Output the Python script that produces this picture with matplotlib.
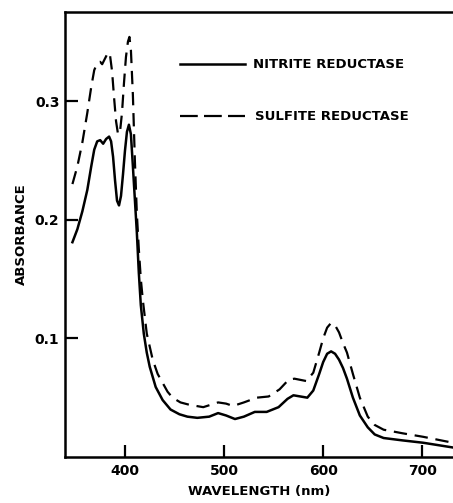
import numpy as np
import matplotlib
matplotlib.use("Agg")
import matplotlib.pyplot as plt

# nitrite reductase (solid)
nir_wl = [347, 352, 357, 362, 366, 369, 372, 375, 378, 381, 384, 386, 388, 390, 392, 394,
          396, 398, 400, 402, 404, 406, 408, 410, 412, 414, 416, 419, 422, 425, 431, 438,
          446, 455, 463, 473, 485, 494, 502, 511, 520, 531, 543, 555, 564, 570, 577, 584,
          590, 596, 600, 604, 608, 612, 616, 620, 624, 630, 637, 645, 652, 661, 680, 701, 731]
nir_abs = [0.181, 0.192, 0.207, 0.225, 0.245, 0.259, 0.266, 0.267, 0.264, 0.268, 0.270, 0.266,
           0.253, 0.233, 0.216, 0.212, 0.220, 0.238, 0.258, 0.274, 0.280, 0.272, 0.245, 0.217,
           0.189, 0.155, 0.128, 0.104, 0.088, 0.076, 0.059, 0.048, 0.040, 0.036, 0.034, 0.033,
           0.034, 0.037, 0.035, 0.032, 0.034, 0.038, 0.038, 0.042, 0.049, 0.052, 0.051, 0.050,
           0.056, 0.070, 0.080, 0.087, 0.089, 0.087, 0.082, 0.075, 0.066, 0.050, 0.035, 0.025,
           0.019, 0.016, 0.014, 0.012, 0.008]

# sulfite reductase (dashed)
sir_wl = [347, 352, 357, 362, 366, 369, 372, 375, 377, 380, 383, 385, 387, 389, 391, 393,
          395, 397, 399, 401, 403, 404.5, 406, 408, 410, 412, 414, 416, 418, 422, 428, 433,
          438, 443, 448, 456, 465, 479, 494, 502, 509, 520, 533, 545, 556, 565, 571, 577,
          583, 590, 596, 600, 604, 608, 612, 616, 620, 624, 630, 637, 645, 652, 661, 680,
          701, 731]
sir_abs = [0.230, 0.245, 0.265, 0.290, 0.312, 0.326, 0.332, 0.333, 0.331, 0.336, 0.341, 0.338,
           0.325, 0.303, 0.283, 0.272, 0.274, 0.290, 0.315, 0.337, 0.350, 0.354, 0.343, 0.305,
           0.250, 0.205, 0.175, 0.150, 0.1325, 0.104, 0.082, 0.070, 0.0625, 0.055, 0.050,
           0.046, 0.044, 0.042, 0.046, 0.045, 0.043, 0.046, 0.050, 0.051, 0.057, 0.065, 0.066,
           0.065, 0.064, 0.071, 0.088, 0.100, 0.109, 0.113, 0.111, 0.105, 0.096, 0.088, 0.070,
           0.050, 0.034, 0.027, 0.023, 0.020, 0.017, 0.012]

xticks = [400, 500, 600, 700]
yticks = [0.1, 0.2, 0.3]
ytick_labels = ["0.1", "0.2", "0.3"]

plt.rcParams['font.family'] = ['DejaVu Sans']
plt.rcParams['font.weight'] = 'bold'

fig = plt.figure(figsize=(4.53, 5.03), dpi=100)
ax = fig.add_axes([65 / 453, 46 / 503, 388 / 453, 445 / 503])

ax.plot(nir_wl, nir_abs, color='black', lw=1.8, solid_joinstyle='round')
ax.plot(sir_wl, sir_abs, color='black', lw=1.6, dashes=(6, 3.5))

ax.set_xlim(339.5, 731)
ax.set_ylim(0, 0.375)
ax.set_xticks(xticks)
ax.set_xticklabels([str(t) for t in xticks])
ax.set_yticks(yticks)
ax.set_yticklabels(ytick_labels)
ax.tick_params(direction='in', length=9, width=1.6, labelsize=10, pad=5)
ax.tick_params(axis='y', pad=4)
ax.spines['right'].set_visible(False)
for s in ['left', 'top', 'bottom']:
    ax.spines[s].set_linewidth(1.8)

ax.set_xlabel('WAVELENGTH (nm)', fontsize=9.5, fontweight='bold', labelpad=5)
ax.set_ylabel('ABSORBANCE', fontsize=9.5, fontweight='bold', labelpad=5)

# legend drawn by hand
ax.plot([455.5, 521], [0.331, 0.331], color='black', lw=1.8)
ax.text(529, 0.331, 'NITRITE REDUCTASE', fontsize=9.5, fontweight='bold', va='center')
ax.plot([455.5, 521], [0.287, 0.287], color='black', lw=1.6, dashes=(8, 2.8))
ax.text(531, 0.287, 'SULFITE REDUCTASE', fontsize=9.5, fontweight='bold', va='center')

fig.savefig('out.png', dpi=100)
